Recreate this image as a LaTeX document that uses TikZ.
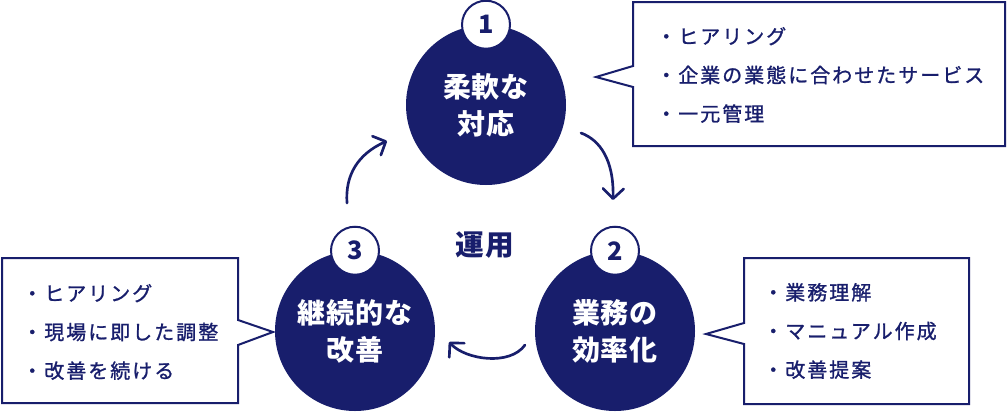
\documentclass[tikz,border=0pt]{standalone}
\usepackage{fontspec}
\setmainfont{Noto Sans CJK JP}
\newfontfamily\listfont{Noto Sans CJK JP}[LetterSpace=10,FakeBold=1.1]
\newfontfamily\headfont{Noto Sans CJK JP}[LetterSpace=3]
\usetikzlibrary{arrows.meta}
\definecolor{navy}{HTML}{181E6C}
\begin{document}
\begin{tikzpicture}[x=0.75pt,y=-0.75pt,
  stage/.style={circle,fill=navy,draw=none,minimum size=120pt,inner sep=0pt,
    text=white,align=center,font=\headfont\bfseries\fontsize{21pt}{27.75pt}\selectfont},
  badge/.style={circle,fill=white,draw=navy,line width=1.5pt,minimum size=36pt,inner sep=0pt,
    text=navy,font=\headfont\bfseries\fontsize{19pt}{20pt}\selectfont},
  listtext/.style={anchor=west,align=left,text=navy,inner sep=0pt,
    font=\listfont\fontsize{15pt}{29pt}\selectfont},
  boxline/.style={draw=navy,line width=1.5pt,fill=white},
  flow/.style={draw=navy,line width=2pt,line cap=round,
    -{Straight Barb[length=7.5pt,width=15.5pt,line width=2pt,round]}},
  centertext/.style={text=navy,font=\headfont\bfseries\fontsize{21.5pt}{24pt}\selectfont}]
\useasboundingbox (0,0) rectangle (1007,411);
\fill[white] (0,0) rectangle (1007,411);

% callout boxes
\path[boxline] (633,2) -- (1005,2) -- (1005,146) -- (633,146) -- (633,87) -- (596,77) -- (633,66) -- cycle;
\path[boxline] (744,258) -- (969,258) -- (969,404) -- (744,404) -- (744,344) -- (706,334) -- (744,323) -- cycle;
\path[boxline] (2,258) -- (238,258) -- (238,320) -- (273,332) -- (238,345) -- (238,403) -- (2,403) -- cycle;

\node[listtext] (list1) at (656,75) {・ヒアリング\\・企業の業態に合わせたサービス\\・一元管理};
\node[listtext] (list2) at (763,331) {・業務理解\\・マニュアル作成\\・改善提案};
\node[listtext] (list3) at (22,332) {・ヒアリング\\・現場に即した調整\\・改善を続ける};

% stages
\node[stage] (s1) at (486,105) {柔軟な\\対応};
\node[stage] (s2) at (615,331) {業務の\\効率化};
\node[stage] (s3) at (355,331) {継続的な\\改善};

\node[badge] (n1) at (s1.north) {1};
\node[badge] (n2) at (s2.north) {2};
\node[badge] (n3) at (s3.north) {3};

\node[centertext] (mid) at (485,245) {運用};

% flow arrows
\coordinate (a1s) at (581,133);
\coordinate (a1e) at (613,200);
\coordinate (a2s) at (525,345);
\coordinate (a2e) at (449,342);
\coordinate (a3s) at (347,203);
\coordinate (a3e) at (387,141);
\draw[flow] (a1s) .. controls (600,140) and (614,160) .. (a1e);
\draw[flow] (a2s) .. controls (510,366) and (466,360) .. (a2e);
\draw[flow] (a3s) .. controls (345,175) and (358,154) .. (a3e);
\end{tikzpicture}
\end{document}
